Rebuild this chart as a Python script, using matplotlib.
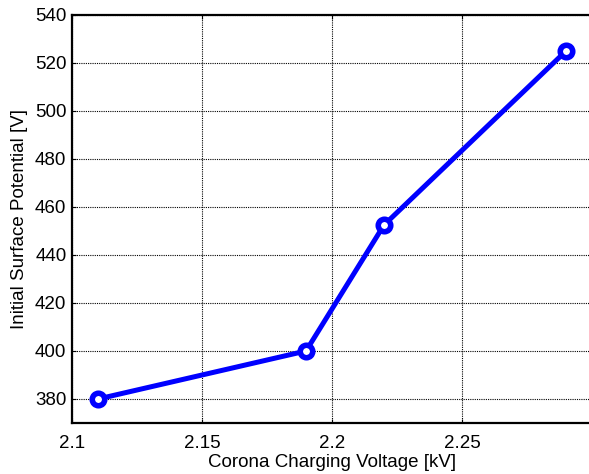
import matplotlib
matplotlib.use("Agg")
import matplotlib.pyplot as plt

voltage_kv = [2.11, 2.19, 2.22, 2.29]
surface_potential_v = [380, 400, 452.5, 525]
x_ticks = [2.1, 2.15, 2.2, 2.25]
x_tick_labels = ["2.1", "2.15", "2.2", "2.25"]
y_ticks = [380, 400, 420, 440, 460, 480, 500, 520, 540]

plt.rcParams['font.family'] = ['Liberation Sans', 'DejaVu Sans']

fig = plt.figure(figsize=(5.89, 4.74), dpi=100)
W, H = 589, 474
ax = fig.add_axes([72 / W, 51 / H, (592 - 72) / W, (423 - 15) / H])

ax.plot(voltage_kv, surface_potential_v, color='#0000ff', linewidth=3.6,
        marker='o', markersize=9, markerfacecolor='white',
        markeredgecolor='#0000ff', markeredgewidth=4, zorder=3)

ax.set_xlim(2.1, 2.3)
ax.set_ylim(370, 540)
ax.set_xticks(x_ticks)
ax.set_xticklabels(x_tick_labels)
ax.set_yticks(y_ticks)
ax.grid(True, color='black', linestyle=(0, (1, 1)), linewidth=0.8)
ax.tick_params(direction='in', top=True, right=True, labelsize=13.5,
               length=3, width=0.8, colors='black')
ax.tick_params(axis='x', pad=9)
ax.tick_params(axis='y', pad=4)
for s in ax.spines.values():
    s.set_linewidth(1.6)

ax.set_xlabel("Corona Charging Voltage [kV]", fontsize=13.5, labelpad=1)
ax.set_ylabel("Initial Surface Potential [V]", fontsize=13.5, labelpad=5)

fig.savefig("out.png", dpi=100)
